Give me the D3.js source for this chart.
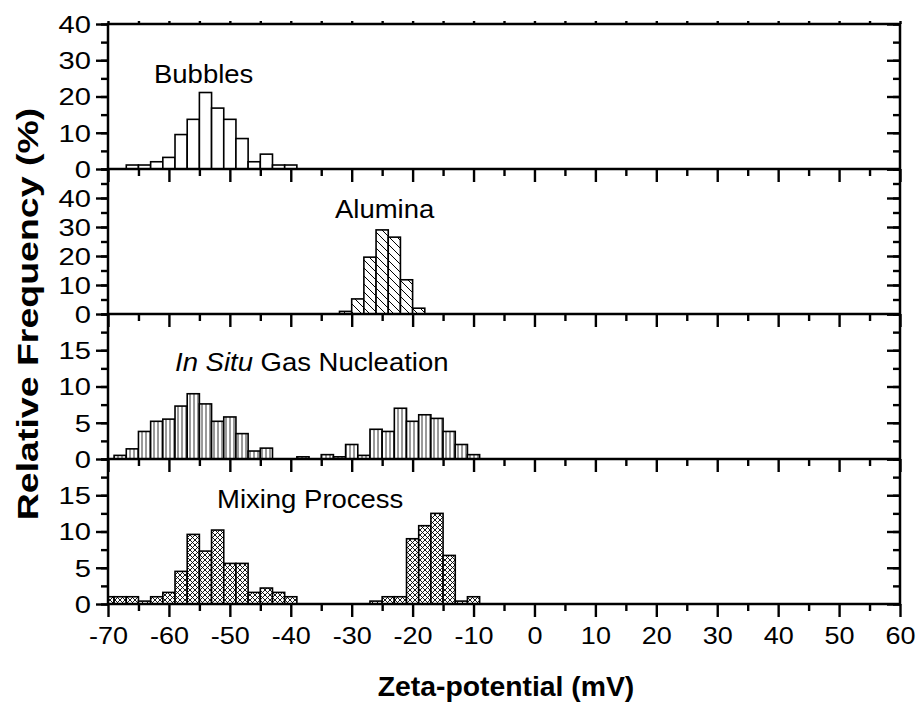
<!DOCTYPE html>
<html>
<head>
<meta charset="utf-8">
<script src="https://cdn.jsdelivr.net/npm/d3@7"></script>
<style>
  body { margin: 0; background: #fff; }
  text { font-family: Arial, "Liberation Sans", Helvetica, sans-serif; fill: #000; }
</style>
</head>
<body>
<svg id="chart" width="917" height="713"></svg>
<script>
// Zeta-potential distributions, 2 mV bins (bin centres in mV, relative frequency in %)
const bubbleBins = [-66, -64, -62, -60, -58, -56, -54, -52, -50, -48, -46, -44, -42, -40];
const bubbleFreq = [1.1, 1.1, 2.0, 3.2, 9.5, 13.7, 21.1, 16.8, 13.7, 8.4, 2.0, 4.1, 1.1, 1.1];

const aluminaBins = [-31, -29, -27, -25, -23, -21, -19];
const aluminaFreq = [0.9, 5.2, 19.6, 29.0, 26.5, 11.8, 2.0];

const nucleationBins = [-68, -66, -64, -62, -60, -58, -56, -54, -52, -50, -48, -46, -44,
                        -38, -34, -32, -30, -28, -26, -24, -22, -20, -18, -16, -14, -12, -10];
const nucleationFreq = [0.5, 1.4, 3.8, 5.2, 5.5, 7.3, 9.0, 7.6, 5.2, 5.8, 3.5, 1.1, 1.5,
                        0.3, 0.6, 0.3, 2.0, 0.5, 4.1, 3.8, 7.0, 5.2, 6.1, 5.6, 3.8, 2.0, 0.6];

const mixingBins = [-70, -68, -66, -64, -62, -60, -58, -56, -54, -52, -50, -48, -46, -44, -42, -40,
                    -26, -24, -22, -20, -18, -16, -14, -12, -10];
const mixingFreq = [1.0, 1.0, 1.0, 0.4, 1.0, 1.6, 4.5, 9.6, 7.3, 10.2, 5.6, 5.6, 1.6, 2.2, 1.6, 1.0,
                    0.4, 1.0, 1.0, 9.0, 10.8, 12.5, 6.7, 0.4, 1.0];

const panelMax = [40, 50, 20, 20];
const panelTickStep = [10, 10, 5, 5];
const xDomain = [-70, 60];
const xTickValues = d3.range(-70, 61, 10);
const binWidth = 2;

const panels = [
  { name: "Bubbles", bins: bubbleBins, freq: bubbleFreq, fill: "plain" },
  { name: "Alumina", bins: aluminaBins, freq: aluminaFreq, fill: "diag" },
  { name: "In Situ Gas Nucleation", bins: nucleationBins, freq: nucleationFreq, fill: "vert" },
  { name: "Mixing Process", bins: mixingBins, freq: mixingFreq, fill: "cross" }
];

// ---- layout ----
const plotLeft = 108, plotRight = 900, plotTop = 24, panelH = 145;
const plotBottom = plotTop + panelH * panels.length;
const axisW = 2.5;

const svg = d3.select("#chart");
const x = d3.scaleLinear().domain(xDomain).range([plotLeft, plotRight]);

// horizontally widened text, placed by its anchor point
function placeText(sel, px, py, sx) {
  return sel.attr("x", px / sx).attr("y", py).attr("transform", `scale(${sx},1)`);
}

// ---- fill patterns ----
const defs = svg.append("defs");
defs.append("clipPath").attr("id", "plotClip")
  .append("rect").attr("x", plotLeft).attr("y", plotTop)
  .attr("width", plotRight - plotLeft).attr("height", plotBottom - plotTop);

function pattern(id, size, d, sw) {
  const p = defs.append("pattern").attr("id", id)
    .attr("patternUnits", "userSpaceOnUse").attr("width", size).attr("height", size);
  p.append("rect").attr("width", size).attr("height", size).attr("fill", "#fff");
  if (d) p.append("path").attr("d", d).attr("stroke", "#000").attr("stroke-width", sw).attr("fill", "none");
}
pattern("plain", 4, null, 0);
pattern("diag", 8, "M-2,-2L10,10M-2,6L2,10M6,-2L10,2", 1);
pattern("vert", 4, "M2,0V4", 0.8);
pattern("cross", 5, "M-1,-1L6,6M-1,6L6,-1", 0.9);

const plainNumber = d => String(d);   // hyphen-minus, as printed on the axes

// ---- panels ----
panels.forEach((p, i) => {
  const y0 = plotTop + i * panelH, y1 = y0 + panelH;
  const y = d3.scaleLinear().domain([0, panelMax[i]]).range([y1, y0]);
  const step = panelTickStep[i];
  const majors = d3.range(0, panelMax[i] - step / 2, step);           // labelled ticks
  const minors = d3.range(0, panelMax[i] + 1e-9, step / 2);          // every half step

  // bars
  const bars = d3.zip(p.bins, p.freq).filter(d => d[1] > 0);
  svg.append("g").attr("clip-path", "url(#plotClip)")
    .selectAll("rect").data(bars).join("rect")
    .attr("x", d => x(d[0] - binWidth / 2))
    .attr("width", d => x(d[0] + binWidth / 2) - x(d[0] - binWidth / 2))
    .attr("y", d => y(d[1]))
    .attr("height", d => y(0) - y(d[1]))
    .attr("fill", `url(#${p.fill})`)
    .attr("stroke", "#000")
    .attr("stroke-width", 1.6);

  // left axis: outward ticks, labels
  svg.append("g").attr("transform", `translate(${plotLeft},0)`)
    .call(d3.axisLeft(y).tickValues(minors).tickSize(7).tickFormat(""));
  const lb = svg.append("g").attr("transform", `translate(${plotLeft},0)`);
  lb.call(d3.axisLeft(y).tickValues(majors.concat(i === 0 ? [panelMax[i]] : []))
    .tickSize(12).tickPadding(6).tickFormat(plainNumber));
  lb.selectAll("text").attr("font-size", 23.5).attr("text-anchor", "end")
    .attr("transform", "scale(1.24,1)").attr("x", -17 / 1.24).attr("dy", "0.36em");

  // right axis: inward ticks
  svg.append("g").attr("transform", `translate(${plotRight},0)`)
    .call(d3.axisLeft(y).tickValues(minors).tickSize(7).tickFormat(""));
  svg.append("g").attr("transform", `translate(${plotRight},0)`)
    .call(d3.axisLeft(y).tickValues(majors.concat([panelMax[i]])).tickSize(13).tickFormat(""));

  // bottom axis of the panel: ticks pointing down
  svg.append("g").attr("transform", `translate(0,${y1})`)
    .call(d3.axisBottom(x).tickValues(d3.range(-65, 60, 10)).tickSize(7).tickFormat(""));
  const bx = svg.append("g").attr("transform", `translate(0,${y1})`)
    .call(d3.axisBottom(x).tickValues(xTickValues).tickSize(13).tickPadding(10)
      .tickFormat(i === panels.length - 1 ? plainNumber : ""));
  bx.selectAll("text").attr("font-size", 23.5).attr("transform", "scale(1.15,1)")
    .attr("x", 0).attr("dy", "0.72em");

  // panel label
  const lbl = svg.append("text").attr("font-size", 25).style("white-space", "pre");
  if (p.name === "In Situ Gas Nucleation") {
    lbl.append("tspan").attr("font-style", "italic").text("In Situ");
    lbl.append("tspan").text(" Gas Nucleation");
  } else {
    lbl.text(p.name);
  }
  const labelPos = [[154, 83], [335, 218], [175, 371], [217, 508]][i];
  placeText(lbl, labelPos[0], labelPos[1], 1.1);
});

// top axis: short ticks
svg.append("g").attr("transform", `translate(0,${plotTop})`)
  .call(d3.axisTop(x).tickValues(d3.range(-70, 61, 5)).tickSize(3).tickFormat(""));

// axis styling
svg.selectAll(".domain").remove();
svg.selectAll(".tick line").attr("stroke", "#000").attr("stroke-width", 2.4);

// frame and panel separators
svg.append("rect").attr("x", plotLeft).attr("y", plotTop)
  .attr("width", plotRight - plotLeft).attr("height", plotBottom - plotTop)
  .attr("fill", "none").attr("stroke", "#000").attr("stroke-width", axisW);
svg.append("g").selectAll("line").data(d3.range(1, panels.length)).join("line")
  .attr("x1", plotLeft).attr("x2", plotRight)
  .attr("y1", d => plotTop + d * panelH).attr("y2", d => plotTop + d * panelH)
  .attr("stroke", "#000").attr("stroke-width", axisW);

// axis titles
placeText(svg.append("text").attr("font-size", 27).attr("font-weight", "bold")
  .attr("text-anchor", "middle").text("Zeta-potential (mV)"), 506, 696, 1.05);

svg.append("text")
  .attr("font-size", 30).attr("font-weight", "bold").attr("text-anchor", "middle")
  .attr("transform", "translate(38,314) rotate(-90) scale(1.25,1)")
  .text("Relative Frequency (%)");
</script>
</body>
</html>
